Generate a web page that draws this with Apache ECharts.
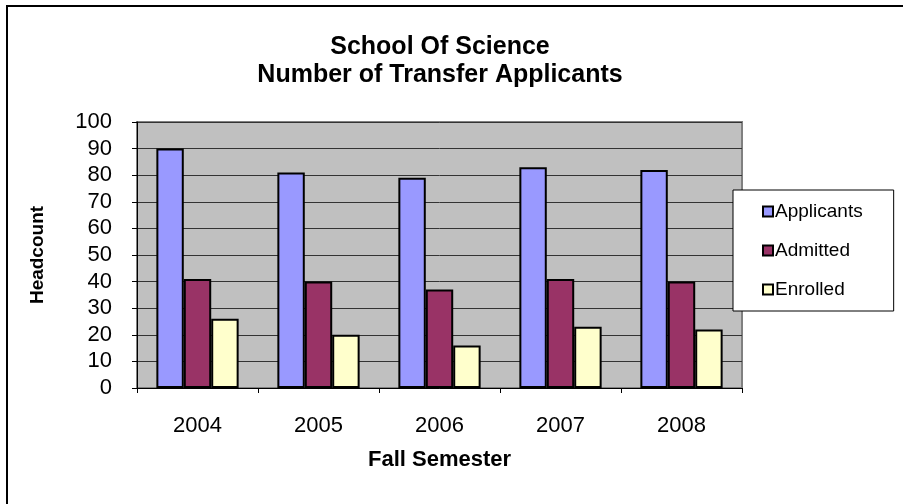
<!DOCTYPE html>
<html>
<head>
<meta charset="utf-8">
<script src="https://cdn.jsdelivr.net/npm/echarts@6/dist/echarts.min.js"></script>
<style>html,body{margin:0;padding:0;background:#fff}#c{width:903px;height:504px}</style>
</head>
<body>
<div id="c"></div>
<script>
const categories = ['2004', '2005', '2006', '2007', '2008'];
const applicants = [90, 81, 79, 83, 82];
const admitted = [41, 40, 37, 41, 40];
const enrolled = [26, 20, 16, 23, 22];
const seriesNames = ['Applicants', 'Admitted', 'Enrolled'];
const colors = ['#9999FF', '#993366', '#FFFFCC'];
const titleText = 'School Of Science\nNumber of Transfer Applicants';
const yName = 'Headcount';
const xName = 'Fall Semester';

const FONT = '"Liberation Sans", Arial, sans-serif';
const chart = echarts.init(document.getElementById('c'), null, {renderer: 'canvas'});
const dataSets = [applicants, admitted, enrolled];
chart.setOption({
  animation: false,
  backgroundColor: '#fff',
  textStyle: {fontFamily: FONT},
  title: {
    text: titleText,
    left: 440, top: 33, textAlign: 'center', padding: 0,
    textStyle: {fontFamily: FONT, fontSize: 25, fontWeight: 'bold', color: '#000', lineHeight: 28}
  },
  graphic: [
    {type: 'line', shape: {x1: 6, y1: 6, x2: 903, y2: 6}, style: {stroke: '#000', lineWidth: 2}, silent: true},
    {type: 'line', shape: {x1: 7, y1: 6, x2: 7, y2: 504}, style: {stroke: '#000', lineWidth: 2}, silent: true}
  ],
  legend: {
    orient: 'vertical',
    left: 733, top: 190,
    padding: [12, 31, 12, 29],
    itemGap: 20,
    itemWidth: 10, itemHeight: 10,
    icon: 'rect',
    backgroundColor: '#fff',
    borderColor: '#000', borderWidth: 1,
    textStyle: {fontFamily: FONT, fontSize: 19, color: '#000', padding: [0, 0, 0, -3]},
    data: seriesNames
  },
  grid: {
    left: 137, right: 161, top: 122, bottom: 116,
    show: true, backgroundColor: '#C0C0C0', borderColor: '#808080', borderWidth: 2
  },
  xAxis: {
    type: 'category', data: categories,
    name: xName, nameLocation: 'middle', nameGap: 61,
    nameTextStyle: {fontFamily: FONT, fontSize: 22, fontWeight: 'bold', color: '#000'},
    axisLine: {lineStyle: {color: '#000', width: 1}},
    axisTick: {show: true, alignWithLabel: false, length: 5, lineStyle: {color: '#000'}},
    axisLabel: {fontFamily: FONT, fontSize: 22, color: '#000', margin: 27},
    splitLine: {show: false}
  },
  yAxis: {
    type: 'value', min: 0, max: 100, interval: 10,
    name: yName, nameLocation: 'middle', nameGap: 90, nameRotate: 90,
    nameTextStyle: {fontFamily: FONT, fontSize: 19, fontWeight: 'bold', color: '#000'},
    axisLine: {show: true, lineStyle: {color: '#000', width: 1}},
    axisTick: {show: true, length: 5, lineStyle: {color: '#000'}},
    axisLabel: {fontFamily: FONT, fontSize: 22, color: '#000', margin: 25},
    splitLine: {show: true, lineStyle: {color: '#333', width: 1}}
  },
  series: seriesNames.map((n, i) => ({
    name: n, type: 'bar', data: dataSets[i],
    barGap: '0%', barCategoryGap: '32%',
    itemStyle: {color: colors[i], borderColor: '#000', borderWidth: 2}
  }))
});
</script>
</body>
</html>
